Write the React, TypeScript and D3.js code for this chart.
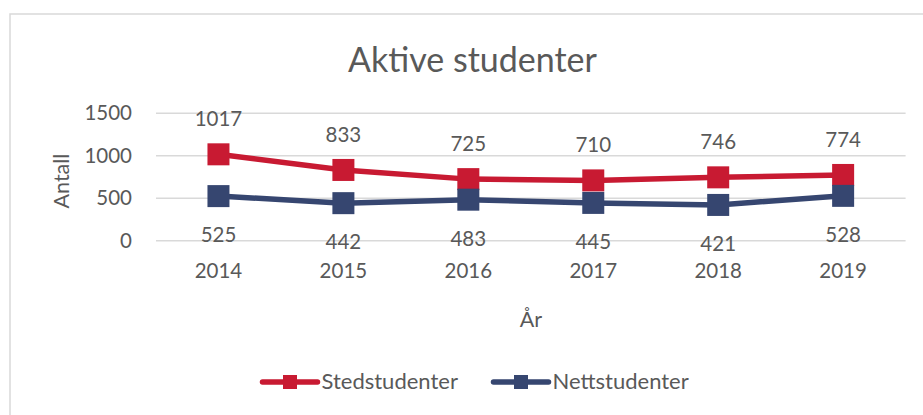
import React from "react";
import * as d3 from "d3";

const years = ["2014", "2015", "2016", "2017", "2018", "2019"];
const stedstudenter = [1017, 833, 725, 710, 746, 774];
const nettstudenter = [525, 442, 483, 445, 421, 528];
const yTicks = [0, 500, 1000, 1500];
const seriesNames = ["Stedstudenter", "Nettstudenter"];
const seriesColors = ["#C81A32", "#364670"];

const W = 923;
const H = 415;
const FONT = "Lato, 'Open Sans', sans-serif";
const TEXT = "#595959";

export default function App() {
  const x = d3.scaleBand<string>().domain(years).range([156, 905.6]);
  const y = d3.scaleLinear().domain([0, 1500]).range([240.7, 113.3]);
  const cx = (d: string) => (x(d) as number) + x.bandwidth() / 2;
  const line = d3
    .line<number>()
    .x((_, i) => cx(years[i]))
    .y((v) => y(v));
  const series = [stedstudenter, nettstudenter];
  const ms = 22;

  return (
    <div style={{ position: "absolute", left: 0, top: 0 }}>
      <svg width={W} height={H} style={{ display: "block", background: "#fff" }}>
        <rect x={10} y={14} width={W} height={H} fill="#fff" stroke="#d9d9d9" strokeWidth={1.5} />
        <text x={472.5} y={72} textAnchor="middle" fontFamily={FONT} fontSize={34} fill={TEXT}>
          Aktive studenter
        </text>
        {yTicks.map((t) => (
          <g key={t}>
            <line x1={156} x2={905.6} y1={y(t)} y2={y(t)} stroke="#d9d9d9" strokeWidth={1.5} />
            <text x={132} y={y(t) + 7} textAnchor="end" fontFamily={FONT} fontSize={20.5} fill={TEXT}>
              {t}
            </text>
          </g>
        ))}
        {years.map((yr) => (
          <text key={yr} x={cx(yr)} y={277.5} textAnchor="middle" fontFamily={FONT} fontSize={20.5} fill={TEXT}>
            {yr}
          </text>
        ))}
        <text
          transform="translate(69,181) rotate(-90)"
          textAnchor="middle"
          fontFamily={FONT}
          fontSize={21.5}
          fill={TEXT}
        >
          Antall
        </text>
        <text x={531} y={327} textAnchor="middle" fontFamily={FONT} fontSize={21.5} fill={TEXT}>
          År
        </text>
        {series.map((s, si) => (
          <g key={si}>
            <path d={line(s) || ""} fill="none" stroke={seriesColors[si]} strokeWidth={5.5} strokeLinejoin="round" />
            {s.map((v, i) => (
              <rect
                key={i}
                x={cx(years[i]) - ms / 2}
                y={y(v) - ms / 2}
                width={ms}
                height={ms}
                fill={seriesColors[si]}
              />
            ))}
          </g>
        ))}
        {series.map((s, si) =>
          s.map((v, i) => (
            <text
              key={`${si}-${i}`}
              x={cx(years[i])}
              y={si === 0 ? y(v) - 28 : y(v) + 46}
              textAnchor="middle"
              fontFamily={FONT}
              fontSize={20.5}
              fill={TEXT}
            >
              {v}
            </text>
          ))
        )}
        {seriesNames.map((n, i) => {
          const lx = i === 0 ? 262.5 : 493.5;
          return (
            <g key={n}>
              <line x1={lx} x2={lx + 55} y1={382} y2={382} stroke={seriesColors[i]} strokeWidth={5.5} strokeLinecap="round" />
              <rect x={lx + 20.5} y={375} width={14} height={14} fill={seriesColors[i]} />
              <text x={lx + 59} y={388.5} fontFamily={FONT} fontSize={22} fill={TEXT}>
                {n}
              </text>
            </g>
          );
        })}
      </svg>
    </div>
  );
}
